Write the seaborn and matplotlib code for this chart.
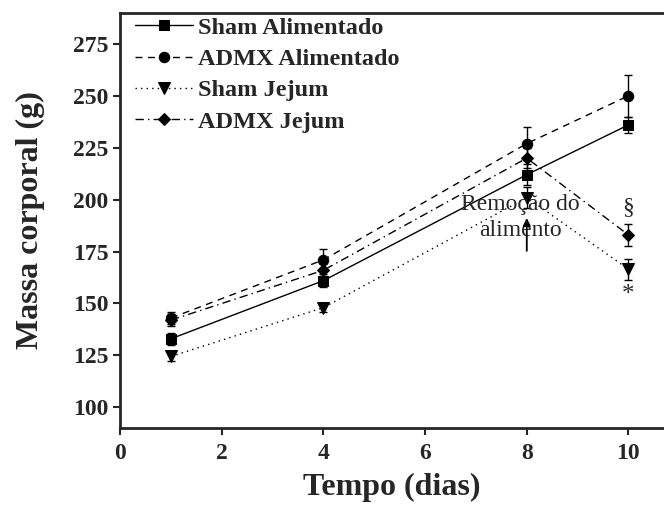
import matplotlib
matplotlib.use("Agg")
import matplotlib.pyplot as plt
import seaborn as sns
import pandas as pd
import numpy as np

sns.set_style("ticks")
plt.rcParams['font.family'] = ['Liberation Serif', 'DejaVu Serif']

days = [1, 4, 8, 10]
sham_alim = [133, 161, 212, 236]
sham_alim_err = [3, 3, 5, 4]
admx_alim = [143, 171, 227, 250]
admx_alim_err = [3, 5, 8, 10]
sham_jej = [124.5, 148, 201, 166.5]
sham_jej_err = [2, 2, 5, 5]
admx_jej = [142, 166, 220, 183]
admx_jej_err = [3, 3, 5, 5.5]

labels = ["Sham Alimentado", "ADMX Alimentado", "Sham Jejum", "ADMX Jejum"]
series = [sham_alim, admx_alim, sham_jej, admx_jej]
errors = [sham_alim_err, admx_alim_err, sham_jej_err, admx_jej_err]

rows = []
for lab, vals, errs in zip(labels, series, errors):
    for d, v, e in zip(days, vals, errs):
        rows.append({"Tempo": d, "Massa": v, "err": e, "Grupo": lab})
df = pd.DataFrame(rows)

styles = {
    "Sham Alimentado": dict(ls="-", marker="s"),
    "ADMX Alimentado": dict(ls=(0, (5, 4)), marker="o"),
    "Sham Jejum": dict(ls=(0, (1, 3)), marker="v"),
    "ADMX Jejum": dict(ls=(0, (6, 3, 1, 3)), marker="D"),
}
msize = {"s": 6.5, "o": 7.5, "v": 8, "D": 6.5}

fig = plt.figure(figsize=(6.64, 5.09), dpi=100)
ax = fig.add_axes([0.181, 0.159, 0.819, 0.816])

for lab in labels:
    sub = df[df.Grupo == lab]
    st = styles[lab]
    ax.errorbar(sub.Tempo, sub.Massa, yerr=sub.err, fmt="none", ecolor="black",
                elinewidth=1, capsize=3, capthick=1, zorder=2)
    sns.lineplot(data=sub, x="Tempo", y="Massa", ax=ax, color="black",
                 linestyle=st["ls"], marker=st["marker"], markersize=msize[st["marker"]],
                 markeredgecolor="black", markerfacecolor="black",
                 linewidth=1, label=lab, errorbar=None, zorder=3)

ax.set_xlim(0, 10.7)
ax.set_ylim(90, 290)
ax.set_xticks([0, 2, 4, 6, 8, 10])
ax.set_yticks([100, 125, 150, 175, 200, 225, 250, 275])
ax.tick_params(axis="both", direction="out", length=5, width=1.5, labelsize=17)
ax.tick_params(axis="x", pad=6)
for lbl in ax.get_xticklabels() + ax.get_yticklabels():
    lbl.set_fontweight("bold")
for s in ["left", "bottom", "top"]:
    ax.spines[s].set_linewidth(2)
ax.spines["right"].set_visible(False)

ax.set_xlabel("Tempo (dias)", fontsize=23, fontweight="bold", labelpad=6)
ax.set_ylabel("Massa corporal (g)", fontsize=23, fontweight="bold", labelpad=20)

ax.text(7.88, 191.5, "Remoção do\nalimento", ha="center", va="center", fontsize=17,
        linespacing=1.3, zorder=4)
ax.annotate("", xy=(8, 192.5), xytext=(8, 174),
            arrowprops=dict(arrowstyle="-|>", color="black", lw=1.3, mutation_scale=11),
            zorder=6)
ax.text(10, 196, "§", ha="center", va="center", fontsize=17)
ax.text(10, 154, "*", ha="center", va="center", fontsize=18)

leg = ax.legend(loc="upper left", frameon=False, prop=dict(size=17.5, weight="bold"),
                handlelength=2.4, handletextpad=0.2, labelspacing=0.38,
                borderaxespad=0.2, bbox_to_anchor=(0.0, 1.025))

fig.savefig("out.png", dpi=100)
